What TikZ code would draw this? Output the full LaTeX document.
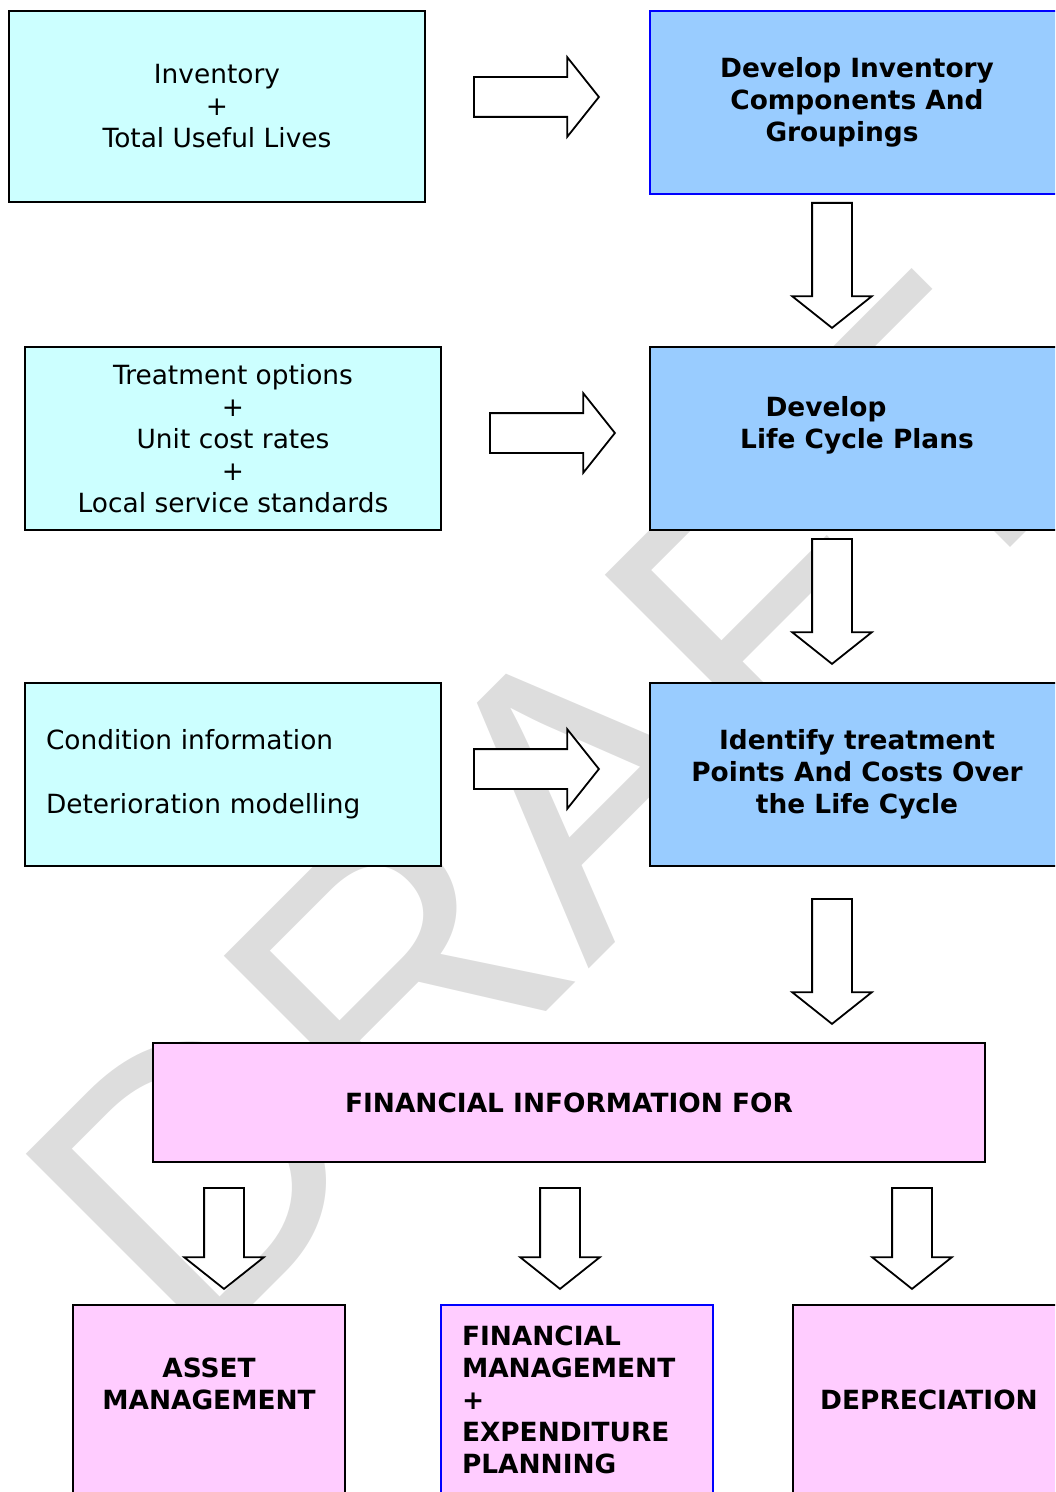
\documentclass[tikz,border=0pt]{standalone}
\usepackage{fontspec}
\setmainfont{DejaVu Sans}
\newfontfamily\draftfont{Liberation Sans}
\usetikzlibrary{shapes.arrows}
\definecolor{incyan}{HTML}{CCFFFF}
\definecolor{devblue}{HTML}{99CCFF}
\definecolor{finpink}{HTML}{FFCCFF}
\definecolor{draftgray}{HTML}{DDDDDD}

\begin{document}
\begin{tikzpicture}[x=0.5pt,y=-0.5pt,
	box/.style={draw, line width=1pt, inner sep=0pt, align=center, font=\fontsize{13.2}{16}\selectfont},
	inbox/.style={box, fill=incyan, minimum width=208pt, minimum height=91.5pt},
	devbox/.style={box, fill=devblue, minimum width=207pt, minimum height=91.5pt, font=\fontsize{13.2}{16}\selectfont\bfseries},
	finbox/.style={box, fill=finpink, minimum width=136pt, minimum height=95pt, font=\fontsize{13.2}{16}\selectfont\bfseries},
	blockarrow/.style={single arrow, draw, fill=white, line width=0.9pt, inner sep=0pt, inner ysep=9.5pt, single arrow head extend=10pt, single arrow tip angle=103, minimum height=62.5pt, anchor=tail},
	downarrow/.style={blockarrow, shape border rotate=270, inner xsep=9.5pt, inner ysep=0pt}]
	\clip (0,0) rectangle (1055,1492);
	\node[rotate=45, anchor=base west, text=draftgray, inner sep=0pt, font=\draftfont\fontsize{194}{194}\selectfont] (draft) at (192,1366) {DRAFT};

	\node[inbox, minimum height=95.5pt] (inv) at (217,106.5) {Inventory\\+\\Total Useful Lives};
	\node[devbox, draw=blue] (comp) at (857,102.5) {Develop Inventory\\Components And\\Groupings\hspace*{15pt}};
	\node[inbox] (treat) at (233,438.5) {Treatment options\\+\\Unit cost rates\\+\\Local service standards};
	\node[devbox] (plans) at (857,438.5) {Develop\hspace*{31pt}\\Life Cycle Plans\\\mbox{}};
	\node[inbox, text width=187pt, align=left] (cond) at (233,774.5) {Condition information\\[16pt]Deterioration modelling};
	\node[devbox] (points) at (857,774.5) {Identify treatment\\Points And Costs Over\\the Life Cycle};
	\node[finbox, minimum width=416pt, minimum height=59.5pt] (fininfo) at (569,1102.5) {FINANCIAL INFORMATION FOR};
	\node[finbox] (asset) at (209,1400) {ASSET\\MANAGEMENT\\\mbox{}};
	\node[finbox, draw=blue, text width=115pt, align=left] (finman) at (577,1400) {FINANCIAL\\MANAGEMENT\\+\\EXPENDITURE\\PLANNING};
	\node[finbox] (depr) at (929,1400) {DEPRECIATION};

	\node[blockarrow] (a1) at (473,97) {};
	\node[blockarrow] (a2) at (489,433) {};
	\node[blockarrow] (a3) at (473,769) {};
	\node[downarrow] (a4) at (832,202) {};
	\node[downarrow] (a5) at (832,538) {};
	\node[downarrow] (a6) at (832,898) {};
	\node[downarrow, minimum height=50.5pt] (a7) at (224,1187) {};
	\node[downarrow, minimum height=50.5pt] (a8) at (560,1187) {};
	\node[downarrow, minimum height=50.5pt] (a9) at (912,1187) {};
\end{tikzpicture}
\end{document}
